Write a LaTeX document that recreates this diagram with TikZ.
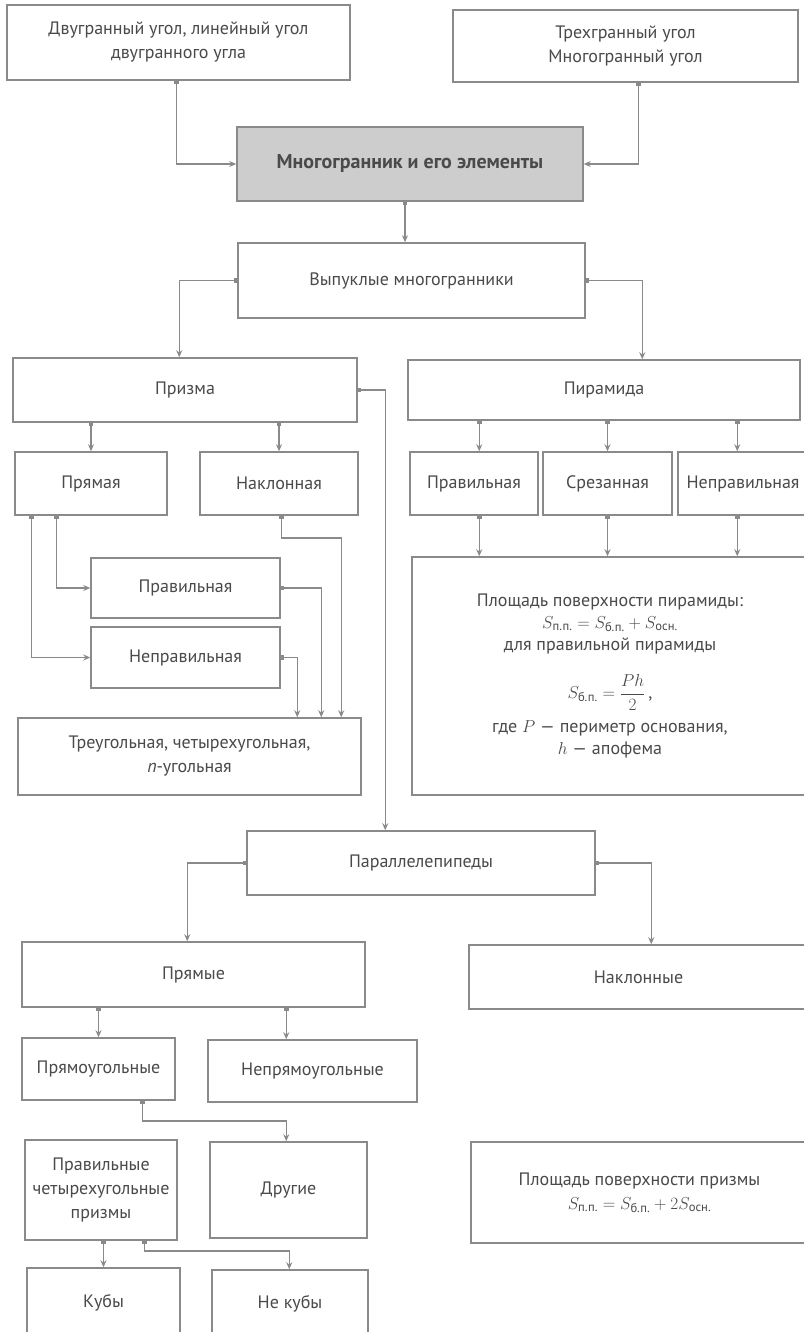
\documentclass[tikz,border=0pt]{standalone}
\usepackage{amsmath}
\usepackage{fontspec}
\setmainfont{PT Sans}
\usetikzlibrary{arrows.meta}
\definecolor{ln}{HTML}{8A8A8A}
\definecolor{tx}{HTML}{4A4A4A}
\definecolor{gfill}{HTML}{CDCDCD}
\tikzset{
  box/.style={draw=ln, line width=1.5pt, rectangle, inner sep=2pt, align=center,
    text=tx, font=\fontsize{18}{24}\selectfont},
  graybox/.style={box, fill=gfill, font=\fontsize{20}{24}\selectfont\bfseries},
  conn/.style={draw=ln, line width=1.5pt,
    {Rectangle[length=3pt,width=4.5pt]}-{Stealth[length=7pt,width=6pt]}},
}
\newcommand{\bx}[7][]{\node[box,#1,minimum width={(#5-#3)*1pt},minimum height={(#6-#4)*1pt}] (#2) at ({(#3+#5)/2},{(#4+#6)/2}) {#7};}
\begin{document}
\begin{tikzpicture}[x=1pt,y=-1pt]
\useasboundingbox[fill=white] (0,0) rectangle (803,1332);
% boxes
\bx{A}{7}{5}{350}{80}{Двугранный угол, линейный угол\\ двугранного угла}
\bx{B}{453}{10}{798}{82}{Трехгранный угол\\ Многогранный угол}
\bx[graybox]{C}{237}{127}{583}{201}{Многогранник и его элементы}
\bx{D}{238}{243}{585}{318}{Выпуклые многогранники}
\bx{E}{13}{358}{357}{422}{Призма}
\bx{F}{408}{360}{800}{420}{Пирамида}
\bx{G}{15}{452}{167}{515}{Прямая}
\bx{H}{200}{452}{358}{515}{Наклонная}
\bx{I}{91}{558}{280}{618}{Правильная}
\bx{J}{91}{627}{280}{688}{Неправильная}
\bx{K}{18}{718}{361}{795}{Треугольная, четырехугольная,\\ \textit{n}-угольная}
\bx{L}{410}{452}{538}{515}{Правильная}
\bx{M}{543}{452}{672}{515}{Срезанная}
\bx{N}{678}{452}{808}{515}{Неправильная}
\bx[font=\fontsize{18}{22}\selectfont]{O}{412}{557}{808}{795}{Площадь поверхности пирамиды:\\ $S_{\text{п.п.}}=S_{\text{б.п.}}+S_{\text{осн.}}$\\ для правильной пирамиды\\[20pt] $S_{\text{б.п.}}=\dfrac{Ph}{2}$\,,\\[10pt] где $P$ — периметр основания,\\ $h$ — апофема}
\bx{P}{247}{831}{595}{895}{Параллелепипеды}
\bx{Q}{22}{942}{365}{1007}{Прямые}
\bx{R}{469}{945}{808}{1009}{Наклонные}
\bx{S}{22}{1038}{175}{1100}{Прямоугольные}
\bx{T}{208}{1040}{417}{1102}{Непрямоугольные}
\bx{U}{25}{1140}{177}{1240}{Правильные\\ четырехугольные\\ призмы}
\bx{V}{210}{1142}{367}{1238}{Другие}
\bx{W}{471}{1142}{808}{1243}{Площадь поверхности призмы\\ $S_{\text{п.п.}}=S_{\text{б.п.}}+2S_{\text{осн.}}$}
\bx{X}{27}{1268}{180}{1338}{Кубы}
\bx{Y}{212}{1270}{368}{1338}{Не кубы}
% connectors
\draw[conn] ([xshift=170pt]A.south west) |- (C.west);
\draw[conn] ([xshift=186pt]B.south west) |- (C.east);
\draw[conn] ([xshift=-5pt]C.south) -- ([xshift=-5pt]C.south |- D.north);
\draw[conn] (D.west) -| ([xshift=167pt]E.north west);
\draw[conn] (D.east) -| ([xshift=235pt]F.north west);
\draw[conn] (G.north |- E.south) -- (G.north);
\draw[conn] (H.north |- E.south) -- (H.north);
\draw[conn] ([xshift=70pt]L.north west |- F.south) -- ([xshift=70pt]L.north west);
\draw[conn] (M.north |- F.south) -- (M.north);
\draw[conn] ([xshift=60pt]N.north west |- F.south) -- ([xshift=60pt]N.north west);
\draw[conn] ([xshift=42pt]G.south west) |- (I.west);
\draw[conn] ([xshift=17pt]G.south west) |- (J.west);
\draw[conn] ([xshift=82pt]H.south west) -- ++(0,22) -| ([xshift=324pt]K.north west);
\draw[conn] (I.east) -| ([xshift=304pt]K.north west);
\draw[conn] (J.east) -| ([xshift=280pt]K.north west);
\draw[conn] ([xshift=70pt]L.south west) -- ([xshift=70pt]L.south west |- O.north);
\draw[conn] (M.south) -- (M.south |- O.north);
\draw[conn] ([xshift=60pt]N.south west) -- ([xshift=60pt]N.south west |- O.north);
\draw[conn] (E.east) -| ([xshift=139pt]P.north west);
\draw[conn] (P.west) -| ([xshift=166pt]Q.north west);
\draw[conn] (P.east) -| ([xshift=183pt]R.north west);
\draw[conn] (S.north |- Q.south) -- (S.north);
\draw[conn] ([xshift=265pt]Q.south west) -- ([xshift=79pt]T.north west);
\draw[conn] ([xshift=121pt]S.south west) -- ++(0,20) -| ([xshift=77pt]V.north west);
\draw[conn] (X.north |- U.south) -- (X.north);
\draw[conn] ([xshift=120pt]U.south west) -- ++(0,10) -| ([xshift=78pt]Y.north west);
\end{tikzpicture}
\end{document}
